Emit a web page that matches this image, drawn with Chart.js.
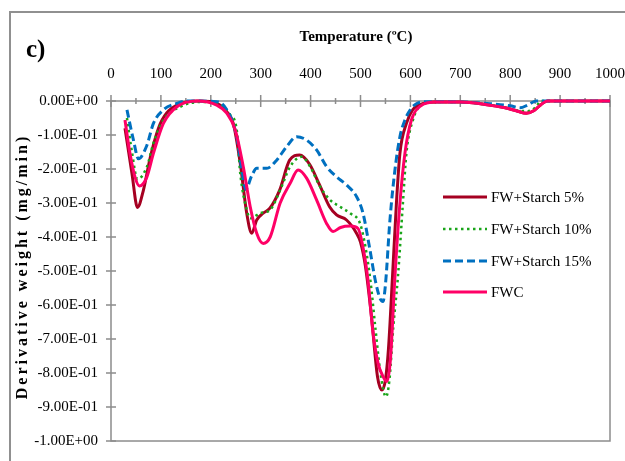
<!DOCTYPE html>
<html lang="en">
<head>
    <meta charset="UTF-8">
    <title>Derivative weight vs temperature</title>
    <script src="https://cdn.jsdelivr.net/npm/chart.js"></script>
    <style>
        body { margin: 0; background: #fff; }
        canvas { display: block; }
    </style>
</head>
<body>
    <canvas id="dtgChart" width="625" height="461"></canvas>
    <script>
        // data (temperature in °C, derivative weight in mg/min)
        var tempS5 = [28, 42, 53, 65, 79, 99, 132, 178, 212, 232, 245, 259, 272, 282, 292, 305, 318, 338, 358, 378, 398, 418, 438, 452, 472, 492, 500, 510, 522, 534, 543, 550, 556, 564, 572, 579, 592, 605, 620, 650, 700, 750, 790, 815, 832, 848, 862, 875, 900, 1000];
        var dtgS5 = [-0.080, -0.213, -0.313, -0.262, -0.164, -0.066, -0.012, 0, -0.007, -0.031, -0.066, -0.183, -0.330, -0.389, -0.350, -0.330, -0.316, -0.262, -0.174, -0.159, -0.186, -0.247, -0.311, -0.335, -0.350, -0.389, -0.415, -0.487, -0.634, -0.810, -0.850, -0.820, -0.730, -0.520, -0.300, -0.154, -0.066, -0.025, -0.010, -0.003, -0.003, -0.010, -0.020, -0.030, -0.036, -0.028, -0.010, 0, 0, 0];

        var tempS10 = [32, 42, 53, 72, 85, 105, 139, 179, 219, 239, 252, 259, 272, 279, 299, 319, 339, 359, 382, 399, 419, 439, 459, 479, 499, 510, 520, 530, 540, 551, 558, 566, 575, 585, 592, 605, 620, 650, 700, 750, 790, 815, 835, 850, 862, 900, 1000];
        var dtgS10 = [-0.050, -0.150, -0.230, -0.193, -0.124, -0.056, -0.017, -0.003, -0.012, -0.041, -0.085, -0.213, -0.320, -0.345, -0.330, -0.320, -0.262, -0.193, -0.164, -0.193, -0.252, -0.291, -0.311, -0.330, -0.360, -0.430, -0.530, -0.670, -0.800, -0.870, -0.820, -0.660, -0.517, -0.300, -0.154, -0.056, -0.015, -0.003, -0.003, -0.010, -0.020, -0.028, -0.030, -0.020, 0, 0, 0];

        var tempS15 = [32, 45, 55, 72, 85, 105, 132, 152, 212, 232, 252, 262, 270, 282, 292, 312, 332, 352, 372, 392, 412, 432, 452, 472, 492, 505, 518, 530, 539, 545, 550, 559, 569, 579, 589, 600, 612, 630, 700, 760, 800, 820, 835, 852, 900, 1000];
        var dtgS15 = [-0.026, -0.115, -0.170, -0.130, -0.066, -0.026, -0.007, 0, -0.002, -0.026, -0.105, -0.200, -0.260, -0.220, -0.198, -0.198, -0.174, -0.134, -0.105, -0.115, -0.144, -0.193, -0.223, -0.247, -0.281, -0.330, -0.430, -0.530, -0.580, -0.590, -0.540, -0.350, -0.203, -0.105, -0.056, -0.025, -0.008, -0.002, -0.003, -0.008, -0.014, -0.020, -0.012, 0, 0, 0];

        var tempFWC = [28, 38, 48, 57, 72, 85, 105, 132, 172, 212, 232, 249, 265, 279, 292, 305, 319, 339, 359, 375, 392, 412, 432, 445, 460, 480, 495, 505, 515, 525, 535, 545, 553, 560, 569, 579, 589, 602, 620, 650, 700, 750, 790, 815, 832, 848, 862, 875, 900, 1000];
        var dtgFWC = [-0.056, -0.154, -0.223, -0.250, -0.223, -0.154, -0.066, -0.017, 0, -0.012, -0.036, -0.085, -0.193, -0.311, -0.389, -0.419, -0.400, -0.300, -0.242, -0.203, -0.227, -0.291, -0.360, -0.384, -0.372, -0.368, -0.375, -0.430, -0.527, -0.680, -0.770, -0.810, -0.825, -0.760, -0.517, -0.300, -0.154, -0.056, -0.015, -0.003, -0.003, -0.010, -0.020, -0.030, -0.036, -0.028, -0.010, 0, 0, 0];

        var seriesLabels = ['FW+Starch 5%', 'FW+Starch 10%', 'FW+Starch 15%', 'FWC'];
        var yTickLabels = ['0.00E+00', '-1.00E-01', '-2.00E-01', '-3.00E-01', '-4.00E-01', '-5.00E-01',
                           '-6.00E-01', '-7.00E-01', '-8.00E-01', '-9.00E-01', '-1.00E+00'];

        function pairs(xs, ys) {
            return xs.map(function (x, i) { return { x: x, y: ys[i] }; });
        }

        var serif = "'Liberation Serif', 'Times New Roman', serif";
        var axisGray = '#8c8c8c';

        // frame, axes with crossing tick marks, titles and legend
        var decorations = {
            id: 'decorations',
            beforeDraw: function (chart) {
                var c = chart.ctx;
                c.save();
                c.fillStyle = '#fff';
                c.fillRect(0, 0, chart.width, chart.height);
                c.strokeStyle = '#909090';
                c.lineWidth = 2;
                c.beginPath();
                c.moveTo(10, chart.height + 2);
                c.lineTo(10, 12);
                c.lineTo(chart.width + 2, 12);
                c.stroke();
                c.restore();
            },
            beforeDatasetsDraw: function (chart) {
                var c = chart.ctx, a = chart.chartArea;
                var xs = chart.scales.x, ys = chart.scales.y;
                c.save();
                c.strokeStyle = axisGray;
                c.lineWidth = 1.5;
                c.strokeRect(a.left, a.top, a.right - a.left, a.bottom - a.top);
                c.beginPath();
                for (var t = 0; t <= 1000; t += 50) {
                    var px = xs.getPixelForValue(t);
                    var h = (t % 100 === 0) ? 6 : 3;
                    c.moveTo(px, a.top - h);
                    c.lineTo(px, a.top + h);
                }
                for (var k = 0; k <= 10; k++) {
                    var py = ys.getPixelForValue(-k / 10);
                    c.moveTo(a.left - 5, py);
                    c.lineTo(a.left + 5, py);
                }
                c.stroke();
                c.restore();
            },
            afterDraw: function (chart) {
                var c = chart.ctx;
                c.save();
                c.fillStyle = '#000';
                c.textBaseline = 'alphabetic';

                c.font = 'bold 25px ' + serif;
                c.textAlign = 'left';
                c.fillText('c)', 26, 57);

                c.font = 'bold 15px ' + serif;
                c.textAlign = 'center';
                c.fillText('Temperature (ºC)', 356, 41);

                // y title, drawn letter by letter for the wide spacing
                var title = 'Derivative weight (mg/min)';
                var spacing = 3;
                c.font = 'bold 16px ' + serif;
                var total = 0;
                for (var i = 0; i < title.length; i++) total += c.measureText(title[i]).width + spacing;
                total -= spacing;
                c.translate(27, 268);
                c.rotate(-Math.PI / 2);
                c.textAlign = 'left';
                var pos = -total / 2;
                for (var j = 0; j < title.length; j++) {
                    c.fillText(title[j], pos, 0);
                    pos += c.measureText(title[j]).width + spacing;
                }
                c.setTransform(1, 0, 0, 1, 0, 0);

                // legend
                var rows = [197, 229, 261, 292];
                c.font = '15px ' + serif;
                c.textBaseline = 'middle';
                c.textAlign = 'left';
                chart.data.datasets.forEach(function (ds, n) {
                    var y = rows[n];
                    c.save();
                    c.strokeStyle = ds.borderColor;
                    c.lineWidth = ds.borderWidth;
                    c.setLineDash(ds.borderDash || []);
                    c.beginPath();
                    c.moveTo(443, y);
                    c.lineTo(487, y);
                    c.stroke();
                    c.restore();
                    c.fillText(ds.label, 491, y + 1);
                });
                c.restore();
            }
        };

        var ctx = document.getElementById('dtgChart').getContext('2d');
        new Chart(ctx, {
            type: 'line',
            data: {
                datasets: [{
                    label: seriesLabels[0],
                    data: pairs(tempS5, dtgS5),
                    borderColor: '#a50021',
                    borderWidth: 3,
                    order: 3
                }, {
                    label: seriesLabels[1],
                    data: pairs(tempS10, dtgS10),
                    borderColor: '#1aa51a',
                    borderWidth: 2.5,
                    borderDash: [2.5, 3.5],
                    order: 2
                }, {
                    label: seriesLabels[2],
                    data: pairs(tempS15, dtgS15),
                    borderColor: '#0070c0',
                    borderWidth: 3,
                    borderDash: [8, 4],
                    order: 1
                }, {
                    label: seriesLabels[3],
                    data: pairs(tempFWC, dtgFWC),
                    borderColor: '#ff0066',
                    borderWidth: 3,
                    order: 0
                }]
            },
            options: {
                responsive: false,
                animation: false,
                layout: { padding: { left: 0, right: 15, top: 0, bottom: 20 } },
                elements: {
                    point: { radius: 0 },
                    line: { cubicInterpolationMode: 'monotone', fill: false }
                },
                datasets: { line: { clip: 6 } },
                scales: {
                    x: {
                        type: 'linear',
                        position: 'top',
                        min: 0,
                        max: 1000,
                        afterFit: function (s) {
                            s.height = 101;
                            s.paddingLeft = 0;
                            s.paddingRight = 0;
                        },
                        ticks: {
                            stepSize: 100,
                            color: '#000',
                            font: { family: serif, size: 15 },
                            padding: 18,
                            maxRotation: 0,
                            callback: function (v) { return String(v); }
                        },
                        grid: { display: false, drawTicks: false },
                        border: { display: false }
                    },
                    y: {
                        min: -1,
                        max: 0,
                        afterFit: function (s) {
                            s.width = 111;
                            s.paddingTop = 0;
                            s.paddingBottom = 0;
                        },
                        ticks: {
                            stepSize: 0.1,
                            color: '#000',
                            font: { family: serif, size: 15 },
                            padding: 13,
                            callback: function (v) { return yTickLabels[Math.round(-v * 10)]; }
                        },
                        grid: { display: false, drawTicks: false },
                        border: { display: false }
                    }
                },
                plugins: {
                    legend: { display: false },
                    tooltip: { enabled: false }
                }
            },
            plugins: [decorations]
        });
    </script>
</body>
</html>
